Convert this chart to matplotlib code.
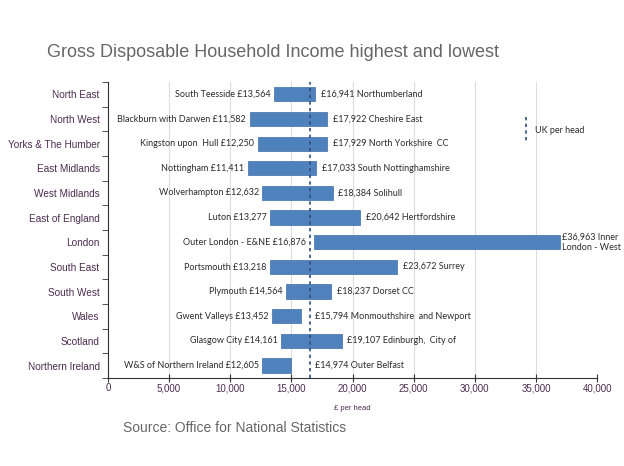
import matplotlib.pyplot as plt
import numpy as np

plt.rcParams['font.family'] = ['Liberation Sans', 'DejaVu Sans']

# 数据
regions = ['North East', 'North West', 'Yorks & The Humber', 'East Midlands', 'West Midlands',
           'East of England', 'London', 'South East', 'South West', 'Wales', 'Scotland',
           'Northern Ireland']
low_names = ['South Teesside', 'Blackburn with Darwen', 'Kingston upon  Hull', 'Nottingham',
             'Wolverhampton', 'Luton', 'Outer London - E&NE', 'Portsmouth', 'Plymouth',
             'Gwent Valleys', 'Glasgow City', 'W&S of Northern Ireland']
low_values = [13564, 11582, 12250, 11411, 12632, 13277, 16876, 13218, 14564, 13452, 14161, 12605]
high_names = ['Northumberland', 'Cheshire East', 'North Yorkshire  CC', 'South Nottinghamshire',
              'Solihull', 'Hertfordshire', 'Inner\nLondon - West', 'Surrey', 'Dorset CC',
              'Monmouthshire  and Newport', 'Edinburgh,  City of', 'Outer Belfast']
high_values = [16941, 17922, 17929, 17033, 18384, 20642, 36963, 23672, 18237, 15794, 19107, 14974]
uk_per_head = 16500

bar_color = '#4F81BD'
cat_color = '#4B2D4F'
val_color = '#2E2A30'

fig = plt.figure(figsize=(6.24, 4.66), dpi=100)
ax = fig.add_axes([0.173, 0.189, 0.784, 0.635])

y = np.arange(len(regions))
low = np.array(low_values)
high = np.array(high_values)
ax.barh(y, high - low, left=low, height=0.58, color=bar_color, edgecolor='#3F6FA8', linewidth=0.5, zorder=3)

ax.axvline(uk_per_head, color='#2F4F7F', linestyle=(0, (2, 2)), linewidth=1.2, zorder=4)

# 数值标签
for i in range(len(regions)):
    xl = min(low_values[i], uk_per_head)
    ax.annotate(f'{low_names[i]} £{low_values[i]:,}', xy=(xl, y[i]), xytext=(-2.5, 0),
                textcoords='offset points', ha='right', va='center', fontsize=6.5,
                family=['Lato', 'DejaVu Sans'], color=val_color)
    xh = max(high_values[i], uk_per_head)
    if i == 6:
        ax.annotate(f'£{high_values[i]:,} {high_names[i]}', xy=(xh, y[i]), xytext=(1.5, 0),
                    textcoords='offset points', ha='left', va='center', fontsize=6.5,
                    family=['Lato', 'DejaVu Sans'], color=val_color, linespacing=1.3)
    else:
        ax.annotate(f'£{high_values[i]:,} {high_names[i]}', xy=(xh, y[i]), xytext=(4, 0),
                    textcoords='offset points', ha='left', va='center', fontsize=6.5,
                    family=['Lato', 'DejaVu Sans'], color=val_color)

ax.set_ylim(len(regions) - 0.5, -0.5)
ax.set_xlim(0, 40000)
ax.set_xticks(np.arange(0, 40001, 5000))
ax.set_xticklabels([f'{v:,}' for v in range(0, 40001, 5000)], fontsize=7, color=cat_color)
ax.set_yticks(y)
ax.set_yticklabels(regions, fontsize=7.2, color=cat_color)
ax.set_yticks(np.arange(-0.5, len(regions)), minor=True)
ax.tick_params(axis='y', which='major', length=0, pad=6)
ax.tick_params(axis='y', which='minor', length=4, direction='out', color='#333333')
ax.tick_params(axis='x', which='major', length=6, direction='inout', color='#333333', pad=1)
ax.grid(axis='x', color='#DDDDDD', linewidth=0.8, zorder=0)
ax.spines['top'].set_visible(False)
ax.spines['right'].set_visible(False)
ax.spines['left'].set_color('#333333')
ax.spines['bottom'].set_color('#333333')
ax.set_xlabel('£ per head', fontsize=5.5, color=cat_color, labelpad=8)

# 图例
ax.plot([34200, 34200], [0.9, 1.95], color='#2F4F7F', linestyle=(0, (2, 2)), linewidth=1.2,
        clip_on=False, zorder=4)
ax.text(34900, 1.45, 'UK per head', fontsize=6.5, family=['Lato', 'DejaVu Sans'],
        color=val_color, va='center', ha='left')

fig.text(0.075, 0.888, 'Gross Disposable Household Income highest and lowest', fontsize=13,
         color='#666666', va='center', ha='left')
fig.text(0.197, 0.082, 'Source: Office for National Statistics', fontsize=10,
         color='#666666', va='center', ha='left')

plt.savefig('out.png', dpi=100, facecolor='white')
